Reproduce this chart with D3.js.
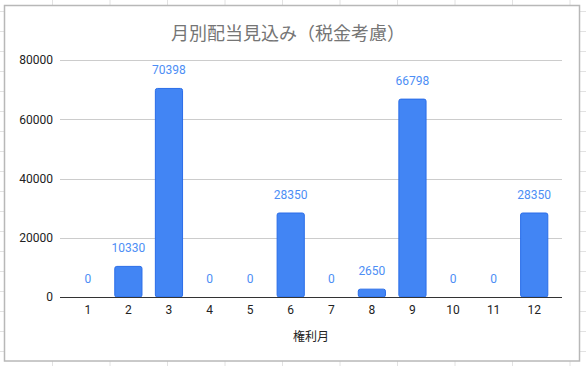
<!DOCTYPE html>
<meta charset="utf-8">
<style>
body { margin: 0; background: #fff; }
svg { display: block; }
text { font-family: Roboto, Arial, sans-serif; }
.title { font-family: "Noto Sans CJK JP", sans-serif; fill: #757575; font-size: 18px; }
.axis-y text { font-size: 12px; fill: #222; }
.axis-x text { font-size: 12px; fill: #222; }
.val { font-size: 12px; fill: #4d8ef5; }
</style>
<body>
<script src="https://d3js.org/d3.v7.min.js"></script>
<script>
// data
var months = ["1","2","3","4","5","6","7","8","9","10","11","12"];
var dividends = [0, 10330, 70398, 0, 0, 28350, 0, 2650, 66798, 0, 0, 28350];
var yTicks = [0, 20000, 40000, 60000, 80000];

var W = 586, H = 366;

var svg = d3.select("body").append("svg")
    .attr("width", W)
    .attr("height", H);

// spreadsheet grid behind the chart
svg.selectAll("line.col").data(d3.range(0, 11))
  .enter().append("line")
    .attr("x1", function(i) { return 52.5 + i * 57.5; })
    .attr("x2", function(i) { return 52.5 + i * 57.5; })
    .attr("y1", 0).attr("y2", H)
    .attr("stroke", "#e2e2e2").attr("stroke-width", 1);
svg.selectAll("line.row").data(d3.range(0, 19))
  .enter().append("line")
    .attr("y1", function(i) { return 11.5 + i * 20; })
    .attr("y2", function(i) { return 11.5 + i * 20; })
    .attr("x1", 0).attr("x2", W)
    .attr("stroke", "#e2e2e2").attr("stroke-width", 1);

// chart box
svg.append("rect")
    .attr("x", 4.5).attr("y", 5.5)
    .attr("width", 575).attr("height", 355.5)
    .attr("fill", "#fff")
    .attr("stroke", "#b8b8b8")
    .attr("stroke-width", 1.5);

// title
svg.append("text")
    .attr("class", "title")
    .attr("x", 288).attr("y", 40)
    .attr("text-anchor", "middle")
    .text("月別配当見込み（税金考慮）");

var x = d3.scaleBand().domain(months).range([67.5, 554.5]).paddingInner(0.33).paddingOuter(0.165);
var y = d3.scaleLinear().domain([0, 80000]).range([297, 60]);

// gridlines
svg.append("g")
  .selectAll("line").data(yTicks.filter(function(d) { return d > 0; }))
  .enter().append("line")
    .attr("x1", 60).attr("x2", 562)
    .attr("y1", function(d) { return Math.round(y(d)) + 0.5; })
    .attr("y2", function(d) { return Math.round(y(d)) + 0.5; })
    .attr("stroke", "#cccccc");

// y axis labels
var gy = svg.append("g")
    .attr("class", "axis-y")
    .attr("transform", "translate(60,0)")
    .call(d3.axisLeft(y).tickValues(yTicks).tickSize(0).tickPadding(7).tickFormat(d3.format("d")));
gy.select(".domain").remove();

// bars
svg.selectAll("rect.bar").data(dividends)
  .enter().append("rect")
    .attr("class", "bar")
    .attr("x", function(d, i) { return x(months[i]); })
    .attr("width", x.bandwidth())
    .attr("y", function(d) { return y(d); })
    .attr("height", function(d) { return y(0) - y(d); })
    .attr("rx", 2)
    .attr("fill", "#4285f4")
    .attr("stroke", "#2a6de8")
    .attr("stroke-width", function(d) { return d > 0 ? 1 : 0; });

// value labels
svg.selectAll("text.val").data(dividends)
  .enter().append("text")
    .attr("class", "val")
    .attr("x", function(d, i) { return x(months[i]) + x.bandwidth() / 2; })
    .attr("y", function(d) { return y(d) - 14; })
    .attr("text-anchor", "middle")
    .text(function(d) { return d; });

// baseline
svg.append("line")
    .attr("x1", 60).attr("x2", 562)
    .attr("y1", y(0) + 0.5).attr("y2", y(0) + 0.5)
    .attr("stroke", "#333").attr("stroke-width", 1);

// x axis
var gx = svg.append("g")
    .attr("class", "axis-x")
    .attr("transform", "translate(0," + y(0) + ")")
    .call(d3.axisBottom(x).tickSize(0).tickPadding(8));
gx.select(".domain").remove();

svg.append("text")
    .attr("x", 311).attr("y", 341)
    .attr("text-anchor", "middle")
    .style("font-family", "'Noto Sans CJK JP', sans-serif")
    .style("font-size", "12px")
    .style("fill", "#222")
    .text("権利月");
</script>
</body>
